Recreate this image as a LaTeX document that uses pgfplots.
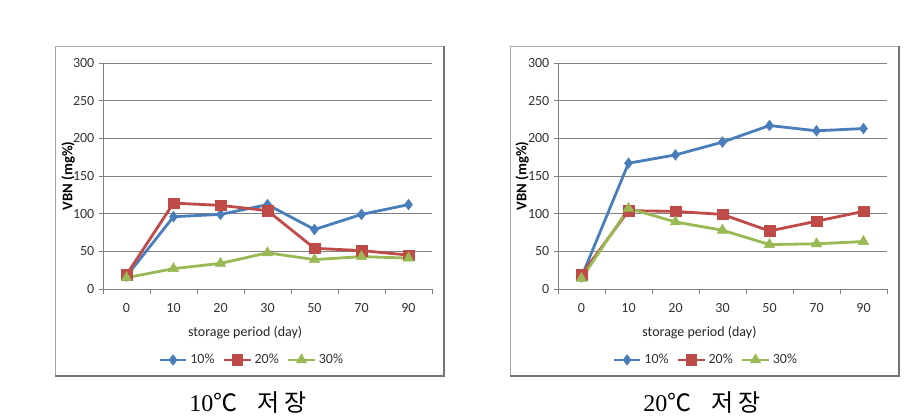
\documentclass[border=0pt]{standalone}
\usepackage{pgfplots}
\pgfplotsset{compat=1.18}
\usepackage{fontspec}
\setmainfont{Carlito}
\newfontfamily\kr{Noto Sans CJK KR}
\newfontfamily\serifnum{Liberation Serif}

\definecolor{cblue}{HTML}{4A7EBB}
\definecolor{cred}{HTML}{BE4B48}
\definecolor{cgreen}{HTML}{98B954}

\pgfplotsset{vbn/.style={
  scale only axis, width=246.75pt, height=169.5pt, anchor=south west,
  xmin=-0.5, xmax=6.5, ymin=0, ymax=300,
  xtick={0,...,6}, xticklabels={0,10,20,30,50,70,90},
  minor xtick={-0.5,0.5,...,6.5},
  ytick={0,50,...,300},
  ymajorgrids, major grid style={color=black!50, line width=0.6pt},
  axis x line*=bottom, axis y line*=left,
  axis line style={black!50, line width=0.7pt, -},
  tick align=outside,
  major tick length=3pt, minor tick length=4pt,
  tick style={black!50, line width=0.7pt},
  major x tick style={draw=none},
  tick label style={font=\fontsize{10.5}{12}\selectfont, text=black!80},
  /pgf/number format/assume math mode=true,
  xticklabel style={yshift=-4pt},
  xlabel={storage period (day)},
  ylabel={\bfseries VBN (mg\%)},
  xlabel style={at={(axis description cs:0.432,-0.195)}, anchor=center, font=\fontsize{10.5}{12}\selectfont, text=black!85},
  ylabel style={anchor=center, font=\fontsize{11}{13}\selectfont},
  legend columns=3,
  legend style={draw=none, fill=none, font=\fontsize{10.5}{12}\selectfont, text=black!80,
    /tikz/every even column/.append style={column sep=4pt},
    /tikz/every odd column/.append style={column sep=0pt}},
  legend image code/.code={%
    \draw[mark repeat=2,mark phase=2] plot coordinates {(0cm,0cm) (0.35cm,0cm) (0.7cm,0cm)};},
  every axis plot/.append style={line width=2.1pt},
}}

\begin{document}
\begin{tikzpicture}
\fill[white] (0pt,0pt) rectangle (686.25pt,-312.75pt);
\path[use as bounding box] (0pt,0pt) rectangle (686.25pt,-312.75pt);

% panel frames
\draw[black!35, line width=0.6pt] (41.25pt,-282pt) -- (41.25pt,-34.5pt) -- (333pt,-34.5pt);
\draw[black!55, line width=1.3pt] (41.25pt,-282pt) -- (333pt,-282pt) -- (333pt,-34.5pt);
\draw[black!35, line width=0.6pt] (382.5pt,-282pt) -- (382.5pt,-34.5pt) -- (674.25pt,-34.5pt);
\draw[black!55, line width=1.3pt] (382.5pt,-282pt) -- (674.25pt,-282pt) -- (674.25pt,-34.5pt);

% left panel: 10 C
\begin{axis}[vbn, at={(77.25pt,-216.75pt)},
  ylabel style={at={(axis description cs:-0.106,0.5)}},
  legend style={at={(axis description cs:0.453,-0.314)}, anchor=center}]
\addplot[color=cblue, mark=diamond*, mark size=4pt, mark options={solid, line width=0.4pt}]
  coordinates {(0,17)(1,96)(2,99)(3,112)(4,79)(5,99)(6,112)};
\addplot[color=cred, mark=square*, mark size=4pt, mark options={solid, line width=0.4pt}]
  coordinates {(0,19)(1,114)(2,111)(3,104)(4,54)(5,51)(6,45)};
\addplot[color=cgreen, mark=triangle*, mark size=4.5pt, mark options={solid, line width=0.4pt}]
  coordinates {(0,15)(1,27)(2,34)(3,48)(4,39)(5,43)(6,41)};
\legend{10\%,20\%,30\%}
\end{axis}

% right panel: 20 C
\begin{axis}[vbn, at={(418.5pt,-216.75pt)},
  ylabel style={at={(axis description cs:-0.109,0.5)}},
  xlabel style={at={(axis description cs:0.43,-0.195)}},
  legend style={at={(axis description cs:0.45,-0.314)}, anchor=center}]
\addplot[color=cblue, mark=diamond*, mark size=4pt, mark options={solid, line width=0.4pt}]
  coordinates {(0,16)(1,167)(2,178)(3,195)(4,217)(5,210)(6,213)};
\addplot[color=cred, mark=square*, mark size=4pt, mark options={solid, line width=0.4pt}]
  coordinates {(0,19)(1,104)(2,103)(3,99)(4,77)(5,90)(6,103)};
\addplot[color=cgreen, mark=triangle*, mark size=4.5pt, mark options={solid, line width=0.4pt}]
  coordinates {(0,14)(1,107)(2,89)(3,78)(4,59)(5,60)(6,63)};
\legend{10\%,20\%,30\%}
\end{axis}

% captions
\node[anchor=center, inner sep=0pt] at (186pt,-302.25pt)
  {\fontsize{18}{21}\selectfont{\serifnum 10}{\kr ℃\hspace{15pt}저\hspace{4pt}장}};
\node[anchor=center, inner sep=0pt] at (526.5pt,-302.25pt)
  {\fontsize{18}{21}\selectfont{\serifnum 20}{\kr ℃\hspace{15pt}저\hspace{4pt}장}};
\end{tikzpicture}
\end{document}
